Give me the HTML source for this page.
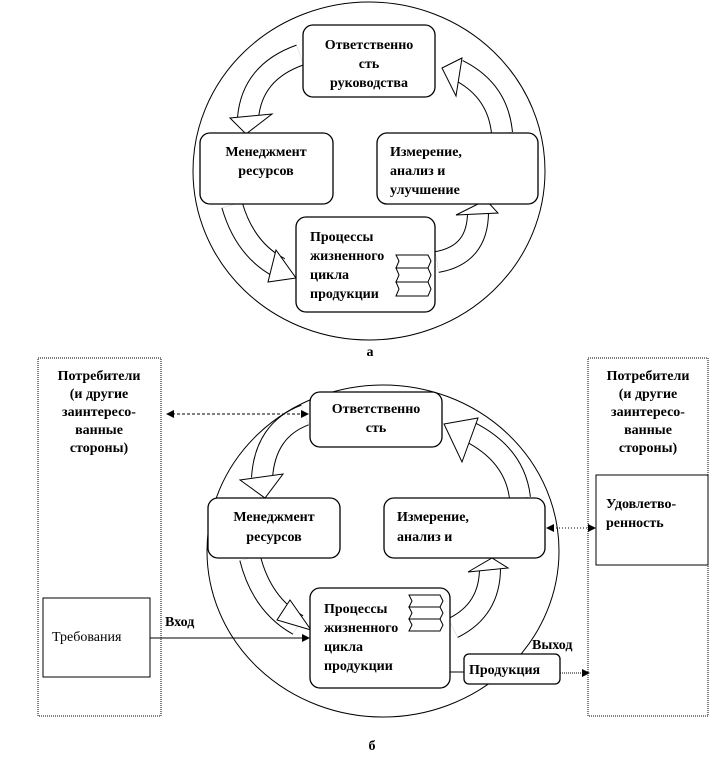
<!DOCTYPE html>
<html><head><meta charset="utf-8"><style>
body{margin:0;background:#fff;}
svg{display:block}
text{font-family:"Liberation Serif",serif;font-weight:bold;font-size:14px;fill:#000}
.b{fill:#fff;stroke:#000;stroke-width:1.3}
.band1{fill:none;stroke:#000;stroke-width:22}
.band2{fill:none;stroke:#fff;stroke-width:20}
.h{fill:#fff;stroke:#000;stroke-width:1}
</style></head><body>
<svg width="713" height="769" viewBox="0 0 713 769">
<ellipse cx="369" cy="171" rx="176" ry="169" fill="#fff" stroke="#000" stroke-width="1"/>
<g>
<path class="band1" d="M300 55 Q252 72 248 118"/>
<path class="band1" d="M232 205 Q245 250 280 268"/>
<path class="band1" d="M437 262 Q478 255 478 212"/>
<path class="band1" d="M502 133 Q498 90 458 70"/>
<path class="band2" d="M300 55 Q252 72 248 118"/>
<path class="band2" d="M232 205 Q245 250 280 268"/>
<path class="band2" d="M437 262 Q478 255 478 212"/>
<path class="band2" d="M502 133 Q498 90 458 70"/>
<polygon class="h" points="230,118 272,114 246,134"/>
<polygon class="h" points="276,250 268,282 296,278"/>
<polygon class="h" points="456,215 498,213 486,200"/>
<polygon class="h" points="462,58 442,68 456,96"/>
</g>
<rect class="b" x="303" y="25" width="132" height="72" rx="10"/>
<rect class="b" x="200" y="133" width="133" height="71" rx="10"/>
<rect class="b" x="377" y="133" width="161" height="71" rx="10"/>
<rect class="b" x="296" y="217" width="139" height="95" rx="10"/>
<g fill="#fff" stroke="#000" stroke-width="1">
<polygon points="396,255 428,255 431,261 428,268 396,268 399,261"/>
<polygon points="396,268 428,268 431,275 428,282 396,282 399,275"/>
<polygon points="396,282 428,282 431,289 428,296 396,296 399,289"/>
</g>
<text x="369" y="49" text-anchor="middle">Ответственно</text>
<text x="369" y="68" text-anchor="middle">сть</text>
<text x="369" y="87" text-anchor="middle">руководства</text>
<text x="266" y="156" text-anchor="middle">Менеджмент</text>
<text x="266" y="175" text-anchor="middle">ресурсов</text>
<text x="390" y="156">Измерение,</text>
<text x="390" y="175">анализ и</text>
<text x="390" y="194">улучшение</text>
<text x="310" y="241">Процессы</text>
<text x="310" y="260">жизненного</text>
<text x="310" y="279">цикла</text>
<text x="310" y="298">продукции</text>
<text x="370" y="356" text-anchor="middle">а</text>

<rect x="38" y="358" width="123" height="358" fill="none" stroke="#000" stroke-width="1" stroke-dasharray="1,1"/>
<rect x="588" y="358" width="120" height="358" fill="none" stroke="#000" stroke-width="1" stroke-dasharray="1,1"/>
<rect x="43" y="598" width="107" height="79" fill="#fff" stroke="#000" stroke-width="1"/>
<rect x="596" y="475" width="112" height="90" fill="#fff" stroke="#000" stroke-width="1"/>
<text x="99" y="380" text-anchor="middle">Потребители</text>
<text x="99" y="398" text-anchor="middle">(и другие</text>
<text x="99" y="416" text-anchor="middle">заинтересо-</text>
<text x="99" y="434" text-anchor="middle">ванные</text>
<text x="99" y="452" text-anchor="middle">стороны)</text>
<text x="648" y="380" text-anchor="middle">Потребители</text>
<text x="648" y="398" text-anchor="middle">(и другие</text>
<text x="648" y="416" text-anchor="middle">заинтересо-</text>
<text x="648" y="434" text-anchor="middle">ванные</text>
<text x="648" y="452" text-anchor="middle">стороны)</text>
<text x="606" y="508">Удовлетво-</text>
<text x="606" y="527">ренность</text>
<text x="52" y="641" style="font-weight:normal">Требования</text>

<ellipse cx="383" cy="551" rx="176" ry="166" fill="#fff" stroke="#000" stroke-width="1"/>
<g>
<path class="band1" d="M305 415 Q265 430 262 478"/>
<path class="band1" d="M250 558 Q262 605 298 625"/>
<path class="band1" d="M453 628 Q490 610 490 568"/>
<path class="band1" d="M520 498 Q515 455 470 432"/>
<path class="band2" d="M305 415 Q265 430 262 478"/>
<path class="band2" d="M250 558 Q262 605 298 625"/>
<path class="band2" d="M453 628 Q490 610 490 568"/>
<path class="band2" d="M520 498 Q515 455 470 432"/>
<polygon class="h" points="240,480 283,474 265,498"/>
<polygon class="h" points="290,600 277,620 311,630"/>
<polygon class="h" points="468,572 508,568 492,558"/>
<polygon class="h" points="478,418 444,424 462,462"/>
</g>
<rect class="b" x="310" y="392" width="132" height="55" rx="10"/>
<rect class="b" x="208" y="498" width="132" height="60" rx="10"/>
<rect class="b" x="384" y="498" width="161" height="60" rx="10"/>
<rect class="b" x="310" y="588" width="140" height="100" rx="10"/>
<g fill="#fff" stroke="#000" stroke-width="1">
<polygon points="409,595 440,595 443,601 440,607 409,607 412,601"/>
<polygon points="409,607 440,607 443,613 440,619 409,619 412,613"/>
<polygon points="409,619 440,619 443,625 440,631 409,631 412,625"/>
</g>
<line x1="450" y1="672" x2="464" y2="672" stroke="#000"/>
<rect class="b" x="464" y="654" width="96" height="30" rx="5"/>
<text x="376" y="413" text-anchor="middle">Ответственно</text>
<text x="376" y="432" text-anchor="middle">сть</text>
<text x="274" y="521" text-anchor="middle">Менеджмент</text>
<text x="274" y="541" text-anchor="middle">ресурсов</text>
<text x="397" y="521">Измерение,</text>
<text x="397" y="541">анализ и</text>
<text x="324" y="613">Процессы</text>
<text x="324" y="632">жизненного</text>
<text x="324" y="651">цикла</text>
<text x="324" y="670">продукции</text>
<text x="469" y="674">Продукция</text>
<text x="165" y="626">Вход</text>
<text x="532" y="649">Выход</text>
<line x1="172" y1="414" x2="303" y2="414" stroke="#000" stroke-dasharray="3,2"/>
<polygon points="166,414 174,410 174,418" fill="#000"/>
<polygon points="309,414 301,410 301,418" fill="#000"/>
<line x1="553" y1="528" x2="589" y2="528" stroke="#000" stroke-dasharray="1,2"/>
<polygon points="546,528 554,524 554,532" fill="#000"/>
<polygon points="596,528 588,524 588,532" fill="#000"/>
<line x1="150" y1="638" x2="303" y2="638" stroke="#000"/>
<polygon points="310,638 302,634 302,642" fill="#000"/>
<line x1="560" y1="673" x2="584" y2="673" stroke="#000" stroke-dasharray="1,1"/>
<polygon points="590,673 582,669 582,677" fill="#000"/>
<text x="372" y="750" text-anchor="middle">б</text>
</svg>
</body></html>
